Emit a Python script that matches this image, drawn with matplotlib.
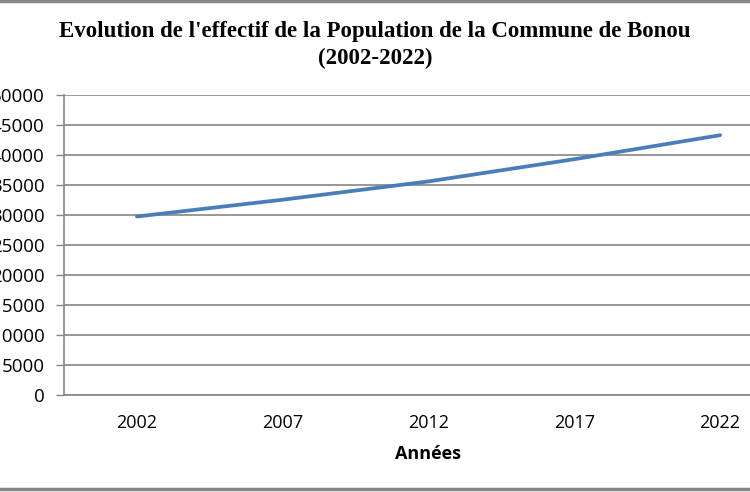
import matplotlib
matplotlib.use("Agg")
import matplotlib.pyplot as plt
from matplotlib.lines import Line2D

years = ["2002", "2007", "2012", "2017", "2022"]
population = [29750, 32550, 35600, 39300, 43300]
y_ticks = [0, 5000, 10000, 15000, 20000, 25000, 30000, 35000, 40000, 45000, 50000]

W, H = 750, 492
fig = plt.figure(figsize=(W / 100, H / 100), dpi=100)
left = 64 / W
bottom = (H - 395) / H
top = (H - 95) / H
width = (793 - 64) / W
ax = fig.add_axes([left, bottom, width, top - bottom])

x = list(range(len(years)))
ax.plot(x, population, color="#4a7ebb", linewidth=2.7, solid_capstyle="round")

ax.set_xlim(-0.5, len(years) - 0.5)
ax.set_ylim(0, 50000)
ax.set_yticks(y_ticks)
ax.set_yticklabels([str(v) for v in y_ticks], fontfamily="Open Sans", fontsize=13.5)
ax.set_xticks(x)
ax.set_xticklabels(years, fontfamily="Open Sans", fontsize=13)
ax.tick_params(axis="y", length=6, width=1, color="#868686", pad=8)
ax.tick_params(axis="x", length=0, pad=14)
ax.grid(axis="y", color="#868686", linewidth=1.2)
ax.set_axisbelow(True)
for s in ["top", "right"]:
    ax.spines[s].set_visible(False)
ax.spines["left"].set_color("#868686")
ax.spines["bottom"].set_color("#868686")
ax.spines["left"].set_linewidth(1.2)
ax.spines["bottom"].set_linewidth(1.2)

ax.set_xlabel("Années", fontfamily="Open Sans", fontweight="bold", fontsize=13, labelpad=9)

fig.text(0.5, (H - 31) / H, "Evolution de l'effectif de la Population de la Commune de Bonou",
         ha="center", va="center", fontfamily="Liberation Serif", fontweight="bold", fontsize=16.5)
fig.text(0.5, (H - 58) / H, "(2002-2022)",
         ha="center", va="center", fontfamily="Liberation Serif", fontweight="bold", fontsize=16.5)

# outer frame lines (top and bottom of the chart area)
fig.add_artist(Line2D([0, 1], [1 - 1 / H, 1 - 1 / H], transform=fig.transFigure, color="#868686", linewidth=2.5))
fig.add_artist(Line2D([0, 1], [3 / H, 3 / H], transform=fig.transFigure, color="#868686", linewidth=2.5))

fig.savefig("out.png", dpi=100)
